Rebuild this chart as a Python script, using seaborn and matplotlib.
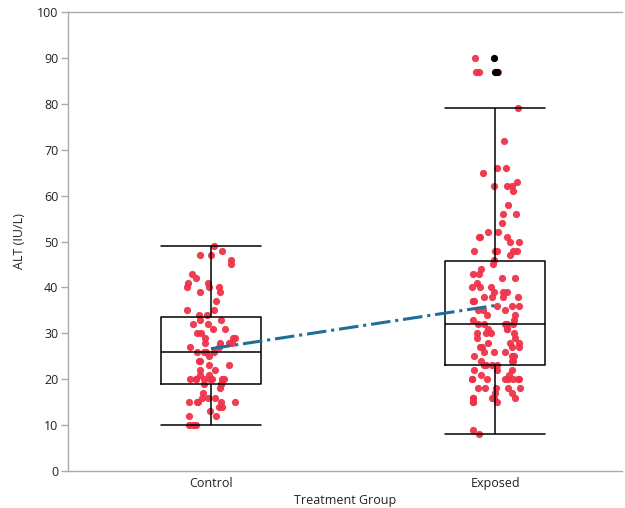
import numpy as np
import pandas as pd
import matplotlib
matplotlib.use("Agg")
import matplotlib.pyplot as plt
import seaborn as sns

# valores (ALT em IU/L)
grupos = ["Control", "Exposed"]

alt_control = [49, 48, 47, 47, 46, 45, 43, 42, 41, 41, 40, 40, 40, 39, 39, 37,
               35, 35, 34, 34, 33, 33, 32, 32, 31, 31, 30, 30, 29, 29, 29,
               28, 28, 28, 28, 27, 27, 26, 26, 26, 26, 25, 24, 24, 23, 23,
               22, 22, 21, 21, 20, 20, 20, 20, 20, 20, 20, 20, 19, 19, 19, 18, 17,
               16, 16, 16, 15, 15, 15, 15, 15, 14, 14, 13, 12, 12, 10, 10, 10]

alt_exposed = [90, 87, 87, 87, 79, 72, 66, 66, 65, 63, 62, 62, 62, 61, 58, 56, 56,
               54, 52, 52, 51, 51, 51, 50, 50, 48, 48, 48, 48, 48, 47, 46, 45,
               44, 43, 43, 42, 42, 41, 40, 40, 40, 39, 39, 39, 38, 38, 38, 38,
               37, 37, 37, 36, 36, 36, 35, 35, 35, 34, 34, 33, 33,
               32, 32, 32, 32, 32, 31, 31, 31, 30, 30, 30, 30, 29, 29,
               28, 28, 28, 27, 27, 27, 27, 26, 26, 26, 25, 25, 25, 24, 24, 24,
               23, 23, 23, 23, 22, 22, 22, 21, 21, 20, 20, 20, 20, 20, 20, 20, 20,
               18, 18, 18, 18, 18, 17, 17, 16, 16, 16, 16, 16, 15, 15, 15, 9, 8]

outliers_exposed = [90, 87, 87]

dados = pd.DataFrame({
    "grupo": ["Control"] * len(alt_control) + ["Exposed"] * len(alt_exposed),
    "alt": alt_control + alt_exposed,
})
dados_outliers = pd.DataFrame({"grupo": ["Exposed"] * len(outliers_exposed),
                               "alt": outliers_exposed})

sns.set_style("white")
plt.rcParams["font.family"] = ["Open Sans", "DejaVu Sans"]

fig = plt.figure(figsize=(6.25, 5.08), dpi=100)
ax = fig.add_axes([0.1088, 0.0728, 0.8862, 0.9035])

np.random.seed(3)
sns.stripplot(data=dados, x="grupo", y="alt", order=grupos, color="#ef3249",
              size=5.2, jitter=0.09, linewidth=0, alpha=0.95, ax=ax, zorder=2)
sns.stripplot(data=dados_outliers, x="grupo", y="alt", order=grupos, color="black",
              size=5.2, jitter=0.03, linewidth=0, ax=ax, zorder=3)
sns.boxplot(data=dados, x="grupo", y="alt", order=grupos, fill=False, color="black",
            width=0.352, linewidth=1.1, showfliers=False, capwidths=0.352,
            whis=1.5, ax=ax, zorder=4)
sns.pointplot(data=dados, x="grupo", y="alt", order=grupos, estimator="mean",
              errorbar=None, color="#1f6e98", marker="", linestyle="-.",
              linewidth=2.2, ax=ax, zorder=5)

ax.set_xlim(-0.503, 1.446)
ax.set_ylim(0, 100)
ax.set_yticks(range(0, 101, 10))
ax.set_xlabel("Treatment Group", fontsize=9, color="#222222", labelpad=3)
ax.set_ylabel("ALT (IU/L)", fontsize=9, color="#222222", labelpad=8)
ax.tick_params(axis="y", length=5, width=1, color="#aaaaaa", labelsize=9,
               labelcolor="#222222", left=True, pad=2)
ax.tick_params(axis="x", length=0, labelsize=9, labelcolor="#222222", pad=4)
for lado in ["left", "bottom", "top"]:
    ax.spines[lado].set_color("#aaaaaa")
    ax.spines[lado].set_linewidth(1)
ax.spines["right"].set_visible(False)

fig.savefig("out.png", dpi=100)
